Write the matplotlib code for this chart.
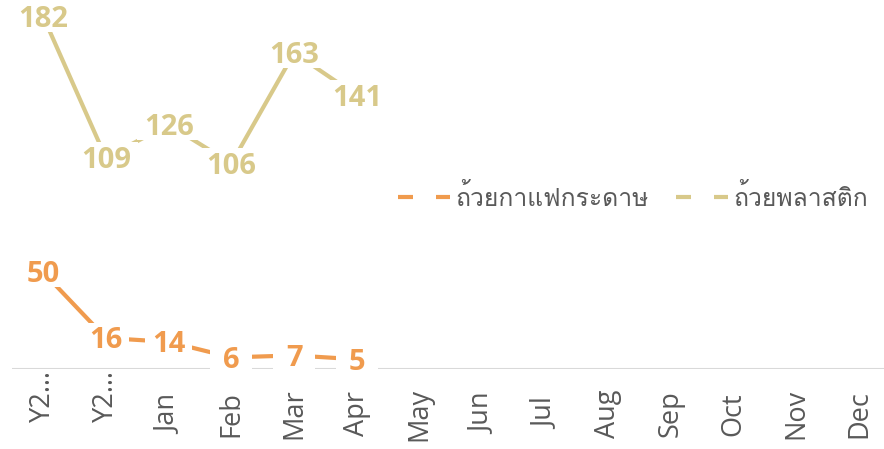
import matplotlib
matplotlib.use("Agg")
import matplotlib.pyplot as plt
from matplotlib import font_manager
from matplotlib.ft2font import FT2Font
from matplotlib.lines import Line2D
from matplotlib.patches import Rectangle
from matplotlib.transforms import offset_copy, IdentityTransform

categories = ["Y2…", "Y2…", "Jan", "Feb", "Mar", "Apr", "May", "Jun",
              "Jul", "Aug", "Sep", "Oct", "Nov", "Dec"]
paper_cup = [50, 16, 14, 6, 7, 5]
plastic_cup = [182, 109, 126, 106, 163, 141]
series_names = ["ถ้วยกาแฟกระดาษ", "ถ้วยพลาสติก"]

ORANGE = "#F09B4E"
TAN = "#D8C98A"
GRAY = "#595959"

# find a font that can render Thai
thai_font = None
for f in font_manager.fontManager.ttflist:
    try:
        ft = FT2Font(f.fname)
        cmap = ft.get_charmap()
        if 0x0E16 in cmap and 0x0E49 in cmap:
            thai_font = f.name
            if "Noto" in f.name or "Loma" in f.name:
                break
    except Exception:
        pass
thai_family = [thai_font, "DejaVu Sans"] if thai_font else ["DejaVu Sans"]

label_font = "Open Sans"
tick_font = "Open Sans"

W, H = 884, 449
DPI = 100
fig = plt.figure(figsize=(W / DPI, H / DPI), dpi=DPI)
zero_px = 369
px_per_unit = 1.939
left_px = 11.6
width_px = 14 * 62.8
ax = fig.add_axes([left_px / W, (H - zero_px) / H, width_px / W, zero_px / H])
ax.set_xlim(-0.5, len(categories) - 0.5)
ax.set_ylim(0, zero_px / px_per_unit)

for s in ax.spines.values():
    s.set_visible(False)
ax.axhline(0, color="#D9D9D9", lw=1.5, zorder=1)
ax.set_yticks([])
ax.set_xticks(range(len(categories)))
ax.set_xticklabels([])
ax.tick_params(axis="x", length=0)

# category labels (rotated), centred in the label band
for i, c in enumerate(categories):
    if c.endswith("…"):
        ax.text(i, 0, c, rotation=90, ha="center", va="top", fontsize=19.5,
                color=GRAY, family=tick_font, clip_on=False,
                transform=offset_copy(ax.get_xaxis_transform(), fig, y=-1,
                                      units="dots"))
    else:
        ax.text(i, 0, c, rotation=90, ha="center", va="center", fontsize=19.5,
                color=GRAY, family=tick_font, clip_on=False,
                transform=offset_copy(ax.get_xaxis_transform(), fig, y=-45,
                                      units="dots"))

LW = 3.0
x1 = list(range(len(paper_cup)))
x2 = list(range(len(plastic_cup)))
ax.plot(x1, paper_cup, color=ORANGE, lw=LW, zorder=2, solid_capstyle="butt")
ax.plot(x2, plastic_cup, color=TAN, lw=LW, zorder=2, solid_capstyle="butt")

LABEL_SIZE = 21
digit_h = 0.714 * LABEL_SIZE * DPI / 72
texts = []
for xs, ys, c in [(x1, paper_cup, ORANGE), (x2, plastic_cup, TAN)]:
    for x, y in zip(xs, ys):
        t = ax.text(x, y, f"{y}", ha="center", va="baseline", color=c,
                    fontsize=LABEL_SIZE, fontweight="bold", family=label_font,
                    zorder=5, clip_on=False,
                    transform=offset_copy(ax.transData, fig, y=-digit_h / 2,
                                          units="dots"))
        texts.append((t, x, y))

# white boxes behind data labels (they break the lines as in the original)
fig.canvas.draw()
renderer = fig.canvas.get_renderer()
PADX, PADY, MIN_W = 7, 5, 42
for t, x, y in texts:
    bb = t.get_window_extent(renderer)
    cx, cy = ax.transData.transform((x, y))
    w = max(bb.width + 2 * PADX, MIN_W)
    r = Rectangle((cx - w / 2, cy - digit_h / 2 - PADY),
                  w, digit_h + 2 * PADY,
                  transform=IdentityTransform(), fc="white", ec="none",
                  zorder=4, clip_on=False)
    ax.add_artist(r)

# legend
lw_px = LW * DPI / 72
handles = [Line2D([], [], color=ORANGE, lw=LW, dashes=(15 / lw_px, 23 / lw_px)),
           Line2D([], [], color=TAN, lw=LW, dashes=(15 / lw_px, 23 / lw_px))]
leg_size = 17.8
leg_px = leg_size * DPI / 72
leg = fig.legend(handles, series_names, loc="center left",
                 bbox_to_anchor=(398 / W, 1 - 197 / H), ncol=2, frameon=False,
                 prop={"family": thai_family, "size": leg_size},
                 handlelength=52 / leg_px, handletextpad=5 / leg_px,
                 columnspacing=28 / leg_px, borderaxespad=0, borderpad=0,
                 labelcolor=GRAY)

fig.savefig("out.png", dpi=DPI)
